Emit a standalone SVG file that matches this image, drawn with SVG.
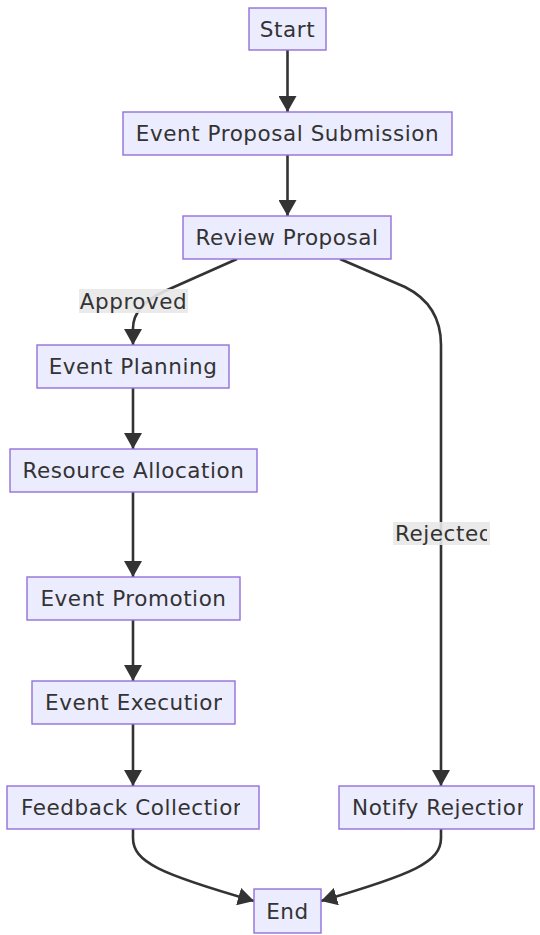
<svg xmlns="http://www.w3.org/2000/svg" width="540" height="935" viewBox="0 0 540 935">
<style>
.node rect{fill:#ECECFF;stroke:#9370DB;stroke-width:1.4}
.node text,.lbl text{font-family:"DejaVu Sans","Liberation Sans",sans-serif;font-size:21.5px;letter-spacing:0.55px;fill:#333}
.c{text-anchor:middle}
.edge{fill:none;stroke:#333;stroke-width:2.6;marker-end:url(#arr)}
.lbl rect{fill:#e8e8e8;fill-opacity:0.9}
</style>
<defs>
<marker id="arr" markerUnits="userSpaceOnUse" viewBox="0 0 16 18" refX="16" refY="9" markerWidth="16" markerHeight="18" orient="auto">
<path d="M0,0 L16,9 L0,18 z" fill="#333"/>
</marker>
<clipPath id="cExec"><rect x="32" y="681" width="190" height="43"/></clipPath>
<clipPath id="cFb"><rect x="7" y="786" width="233" height="43"/></clipPath>
<clipPath id="cNr"><rect x="339" y="786" width="184" height="43"/></clipPath>
<clipPath id="cRej"><rect x="393" y="522" width="94" height="23"/></clipPath>
</defs>
<g id="edges">
<path class="edge" d="M287.5,50 L287.5,112"/>
<path class="edge" d="M287.5,155 L287.5,216"/>
<path class="edge" d="M237,259 L165,291 Q133,306 133,328 L133,345"/>
<path class="edge" d="M340,259 L405,287 Q441,305 441,345 L441,786"/>
<path class="edge" d="M133,388 L133,449"/>
<path class="edge" d="M133,492 L133,577"/>
<path class="edge" d="M133,620 L133,681"/>
<path class="edge" d="M133,724 L133,786"/>
<path class="edge" d="M133,829 L133,838 C133,862 160,874 254,901"/>
<path class="edge" d="M441,829 L441,838 C441,862 414,874 321,901"/>
</g>
<g id="label-approved" class="lbl"><rect x="79" y="289" width="109" height="24"/><text x="133.5" y="308.5" class="c">Approved</text></g>
<g id="label-rejected" class="lbl"><rect x="393" y="522" width="97" height="23"/><text x="395" y="541" clip-path="url(#cRej)">Rejected</text></g>
<g id="start" class="node"><rect x="249" y="8" width="77" height="42"/><text x="287.5" y="36.5" class="c">Start</text></g>
<g id="submission" class="node"><rect x="123" y="112" width="329" height="43"/><text x="287.5" y="141" class="c">Event Proposal Submission</text></g>
<g id="review" class="node"><rect x="183" y="216" width="208" height="43"/><text x="287" y="245" class="c">Review Proposal</text></g>
<g id="planning" class="node"><rect x="37" y="345" width="192" height="43"/><text x="133" y="374" class="c">Event Planning</text></g>
<g id="allocation" class="node"><rect x="10" y="449" width="247" height="43"/><text x="133.5" y="478" class="c">Resource Allocation</text></g>
<g id="promotion" class="node"><rect x="27" y="577" width="213" height="43"/><text x="133.5" y="606" class="c">Event Promotion</text></g>
<g id="execution" class="node"><rect x="32" y="681" width="203" height="43"/><text x="45" y="710" clip-path="url(#cExec)">Event Execution</text></g>
<g id="feedback" class="node"><rect x="7" y="786" width="252" height="43"/><text x="21" y="815" clip-path="url(#cFb)">Feedback Collection</text></g>
<g id="rejection" class="node"><rect x="339" y="786" width="195" height="43"/><text x="352" y="815" clip-path="url(#cNr)">Notify Rejection</text></g>
<g id="end" class="node"><rect x="254" y="889" width="67" height="44"/><text x="287.5" y="918.5" class="c">End</text></g>
</svg>
